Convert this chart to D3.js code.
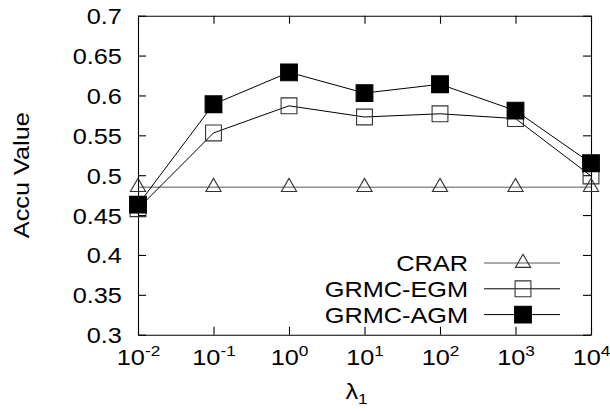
<!DOCTYPE html>
<html>
<head>
<meta charset="utf-8">
<script src="https://cdn.jsdelivr.net/npm/d3@7"></script>
<style>
  body { margin: 0; background: #fff; }
  text { font-family: "Liberation Sans", Arial, sans-serif; fill: #000; }
</style>
</head>
<body>
<div id="chart"></div>
<script>
var lambdas = [1e-2, 1e-1, 1e0, 1e1, 1e2, 1e3, 1e4]
var exponents = ['-2', '-1', '0', '1', '2', '3', '4']
var crar = [0.485, 0.485, 0.485, 0.485, 0.485, 0.485, 0.485]
var egm = [0.458, 0.553, 0.587, 0.573, 0.577, 0.571, 0.499]
var agm = [0.463, 0.589, 0.629, 0.603, 0.614, 0.581, 0.515]
var yTicks = [0.3, 0.35, 0.4, 0.45, 0.5, 0.55, 0.6, 0.65, 0.7]
var seriesNames = ['CRAR', 'GRMC-EGM', 'GRMC-AGM']

var margin = { top: 15.7, left: 138, right: 19, bottom: 76.3 }
var width = 610 - margin.left - margin.right
var height = 411 - margin.top - margin.bottom
var stretch = 1.15

var svg = d3.select('#chart')
  .append('svg')
  .attr('width', 610)
  .attr('height', 411)

var container = svg.append('g')
  .attr('transform', 'translate(' + margin.left + ',' + margin.top + ')')

var xPositionScale = d3.scaleLog().domain([1e-2, 1e4]).range([0, width])
var yPositionScale = d3.scaleLinear().domain([0.3, 0.7]).range([height, 0])

// axes, ticks pointing inward on all four sides
var yAxis = d3.axisLeft(yPositionScale)
  .tickValues(yTicks)
  .tickFormat(d3.format('~g'))
  .tickSizeInner(-8)
  .tickSizeOuter(0)
  .tickPadding(14)
var gy = container.append('g').call(yAxis)
gy.selectAll('text')
  .attr('font-size', 22)
  .attr('transform', 'scale(' + stretch + ',1)')
  .attr('dy', '0.36em')

container.append('g')
  .attr('transform', 'translate(' + width + ',0)')
  .call(d3.axisRight(yPositionScale).tickValues(yTicks).tickFormat('').tickSizeInner(-8).tickSizeOuter(0))

container.append('g')
  .call(d3.axisTop(xPositionScale).tickValues(lambdas).tickFormat('').tickSizeInner(-8).tickSizeOuter(0))

var gx = container.append('g')
  .attr('transform', 'translate(0,' + height + ')')
  .call(d3.axisBottom(xPositionScale).tickValues(lambdas).tickSizeInner(-8).tickSizeOuter(0).tickPadding(15))
gx.selectAll('text').each(function(d, i) {
  var t = d3.select(this).text(null)
    .attr('font-size', 22)
    .attr('transform', 'scale(' + stretch + ',1)')
  t.append('tspan').text('10')
  t.append('tspan').attr('font-size', 15).attr('dy', -9).text(exponents[i])
})

container.selectAll('.domain, .tick line')
  .attr('stroke', '#000')
  .attr('stroke-width', 1.1)

// axis titles
var xTitle = container.append('text')
  .attr('transform', 'translate(' + (width / 2 - 8) + ',' + (height + 64) + ') scale(' + stretch + ',1)')
  .attr('font-size', 22)
  .attr('text-anchor', 'middle')
xTitle.append('tspan').text('λ')
xTitle.append('tspan').attr('font-size', 15).attr('dy', 5).text('1')

container.append('text')
  .attr('transform', 'translate(' + (29 - margin.left) + ',' + (height / 2) + ') rotate(-90) scale(' + stretch + ',1)')
  .attr('font-size', 22)
  .attr('text-anchor', 'middle')
  .text('Accu Value')

// series
var series = [
  { name: seriesNames[0], values: crar, symbol: d3.symbolTriangle, size: 100, fill: 'none', stroke: '#333', line: '#555' },
  { name: seriesNames[1], values: egm, symbol: d3.symbolSquare, size: 250, fill: 'none', stroke: '#333', line: '#000' },
  { name: seriesNames[2], values: agm, symbol: d3.symbolSquare, size: 280, fill: '#000', stroke: '#000', line: '#000' }
]

var line = d3.line()
  .x(function(d) { return xPositionScale(d[0]) })
  .y(function(d) { return yPositionScale(d[1]) })

series.forEach(function(s) {
  var pts = lambdas.map(function(l, i) { return [l, s.values[i]] })
  container.append('path')
    .datum(pts)
    .attr('d', line)
    .attr('fill', 'none')
    .attr('stroke', s.line)
    .attr('stroke-width', 1)

  container.selectAll('.pt-' + s.name)
    .data(pts)
    .enter()
    .append('path')
    .attr('transform', function(d) {
      return 'translate(' + xPositionScale(d[0]) + ',' + yPositionScale(d[1]) + ')'
    })
    .attr('d', d3.symbol(s.symbol, s.size))
    .attr('fill', s.fill)
    .attr('stroke', s.stroke)
    .attr('stroke-width', 1.1)
})

// legend
var legend = container.append('g')
  .attr('transform', 'translate(0,' + (263 - margin.top) + ')')

series.forEach(function(s, i) {
  var row = legend.append('g').attr('transform', 'translate(0,' + (i * 25.8) + ')')
  row.append('text')
    .attr('transform', 'translate(' + (468 - margin.left) + ',0) scale(' + stretch + ',1)')
    .attr('font-size', 22)
    .attr('text-anchor', 'end')
    .attr('dy', '0.36em')
    .text(s.name)
  row.append('line')
    .attr('x1', 484 - margin.left)
    .attr('x2', 560 - margin.left)
    .attr('stroke', s.line)
    .attr('stroke-width', 1)
  row.append('path')
    .attr('transform', 'translate(' + (523 - margin.left) + ',0)')
    .attr('d', d3.symbol(s.symbol, s.size))
    .attr('fill', s.fill)
    .attr('stroke', s.stroke)
    .attr('stroke-width', 1.1)
})
</script>
</body>
</html>
